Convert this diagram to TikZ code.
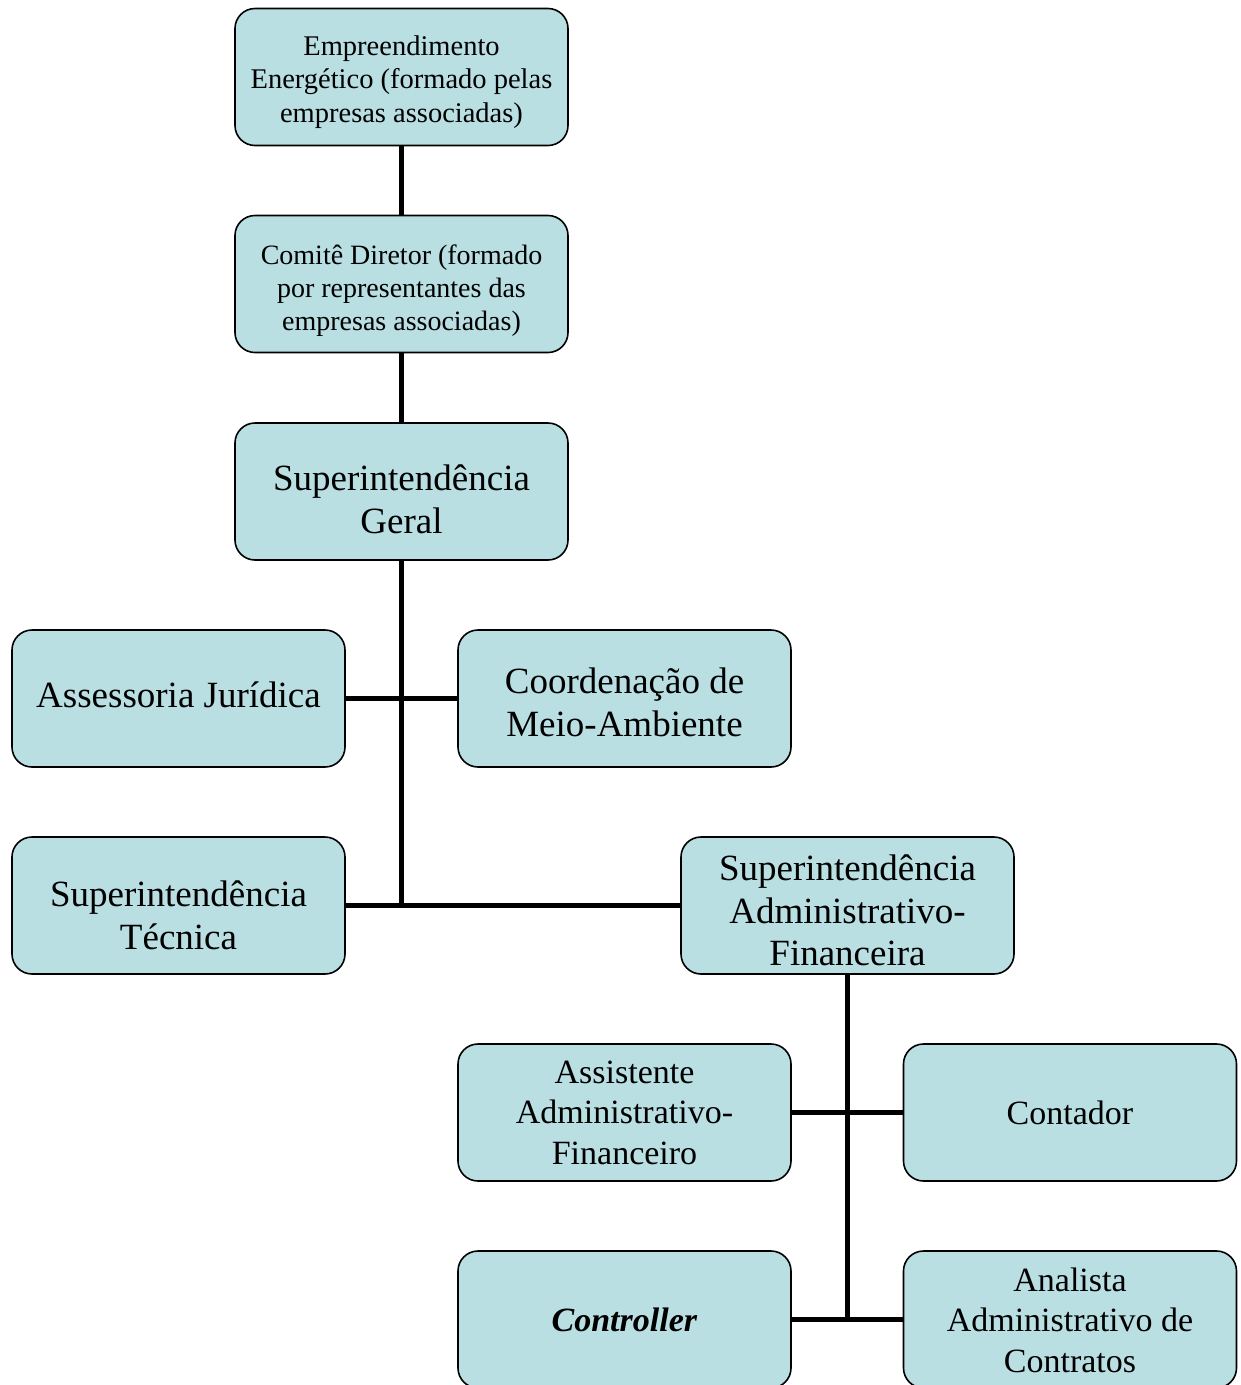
\documentclass[tikz,border=0pt]{standalone}
\usepackage{fontspec}
\setmainfont{Liberation Serif}
\definecolor{boxfill}{RGB}{185,223,227}
\newcommand{\txtl}[2]{\raisebox{-#1pt}[\height][\depth]{\begin{tabular}{@{}c@{}}#2\end{tabular}}}
\tikzset{
  orgbox/.style={draw=black, line width=1.6pt, fill=boxfill, rounded corners=20pt,
    minimum width=333pt, minimum height=137pt, align=center, inner sep=2pt},
  small/.style={font=\fontsize{28.5}{33.5}\selectfont},
  mid/.style={font=\fontsize{34}{40.5}\selectfont},
  big/.style={font=\fontsize{37}{42.5}\selectfont},
  link/.style={line width=5pt, draw=black}
}
\begin{document}
\begin{tikzpicture}[x=1pt,y=-1pt]
\useasboundingbox (0,0) rectangle (1241,1385);
\clip (0,0) rectangle (1241,1385);
\node[orgbox,small] (E) at (401.5,77) {\txtl{5}{Empreendimento\\Energético (formado pelas\\empresas associadas)}};
\node[orgbox,font=\fontsize{28}{33}\selectfont] (C) at (401.5,284) {\txtl{7}{Comitê Diretor (formado\\por representantes das\\empresas associadas)}};
\node[orgbox,big] (G) at (401.5,491.5) {\txtl{12}{Superintendência\\Geral}};
\node[orgbox,big] (AJ) at (178.5,698.5) {\raisebox{4pt}[\height][\depth]{Assessoria Jurídica}};
\node[orgbox,big] (CM) at (624.5,698.5) {\txtl{8}{Coordenação de\\Meio-Ambiente}};
\node[orgbox,big] (ST) at (178.5,905.5) {\txtl{14}{Superintendência\\Técnica}};
\node[orgbox,big] (SAF) at (847.5,905.5) {\txtl{9}{Superintendência\\Administrativo-\\Financeira}};
\node[orgbox,mid] (AAF) at (624.5,1112.5) {\txtl{3}{Assistente\\Administrativo-\\Financeiro}};
\node[orgbox,mid] (CT) at (1070,1112.5) {Contador};
\node[orgbox,mid] (CO) at (624.5,1319.5) {\textbf{\textit{Controller}}};
\node[orgbox,mid] (AN) at (1070,1319.5) {\txtl{4}{Analista\\Administrativo de\\Contratos}};
\coordinate (J1) at (G.south |- ST.east);
\coordinate (J2) at (SAF.south |- CO.east);
\draw[link] (E.south) -- (C.north);
\draw[link] (C.south) -- (G.north);
\draw[link] (G.south) -- (J1);
\draw[link] (AJ.east) -- (CM.west);
\draw[link] (ST.east) -- (SAF.west);
\draw[link] (SAF.south) -- (J2);
\draw[link] (AAF.east) -- (CT.west);
\draw[link] (CO.east) -- (AN.west);
\end{tikzpicture}
\end{document}
